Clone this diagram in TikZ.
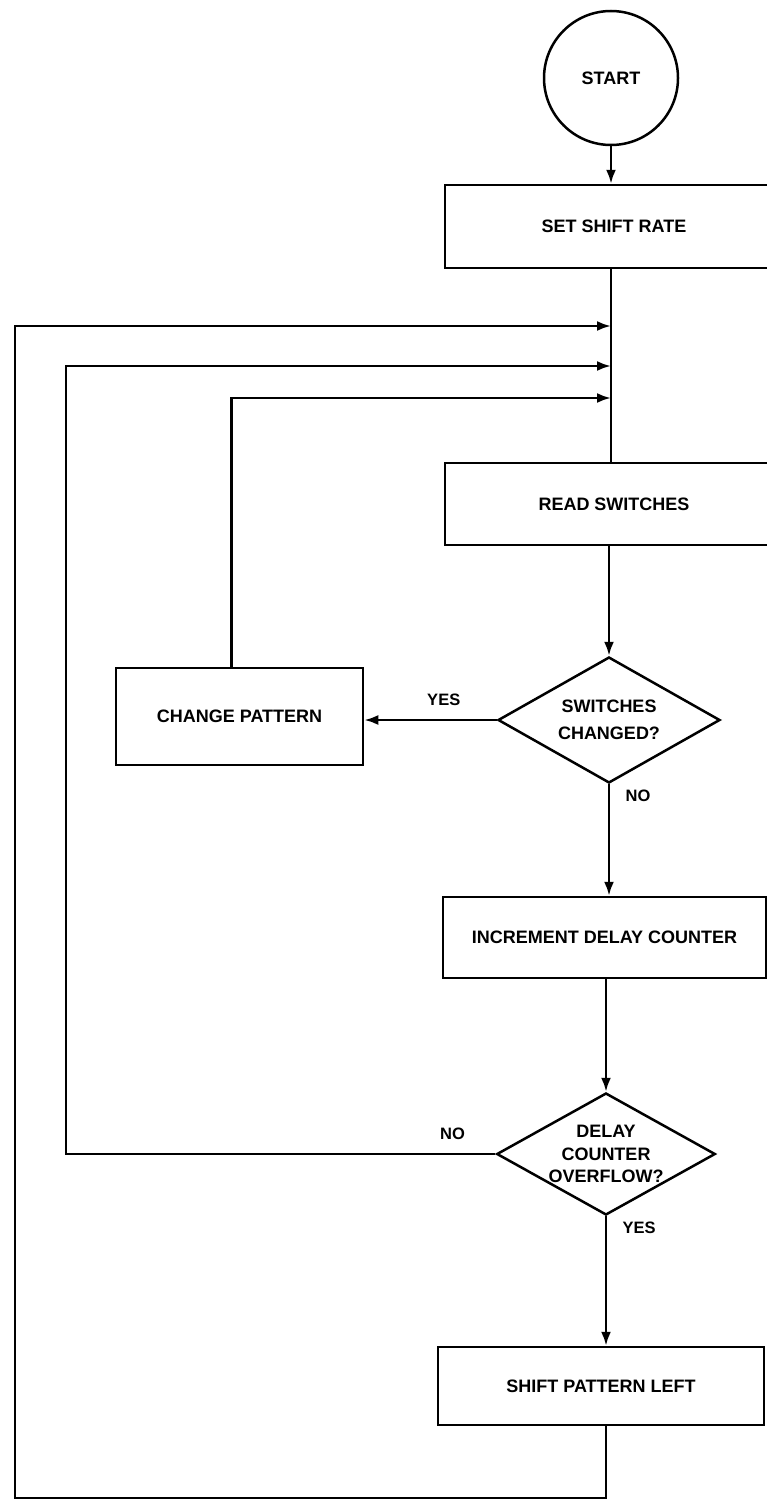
\documentclass[tikz,border=0pt]{standalone}
\usepackage{fontspec}
\setmainfont{Liberation Sans}
\usetikzlibrary{positioning,arrows.meta,shapes.geometric}

\begin{document}
\begin{tikzpicture}[
  x=1pt,y=1pt,
  font=\fontsize{18}{21}\selectfont\bfseries,
  >={Latex[length=14pt,width=10pt]},
  term/.style={draw,circle,line width=2.5pt,minimum size=134pt,inner sep=0pt},
  proc/.style={draw,rectangle,line width=2.5pt,inner sep=0pt,align=center},
  test/.style={draw,diamond,line width=2.5pt,aspect=1.8,inner sep=0pt,align=center},
  flow/.style={->,line width=2.5pt},
  trunk/.style={line width=2.5pt},
  lbl/.style={font=\fontsize{16.5}{19}\selectfont\bfseries},
]
\useasboundingbox (0,0) rectangle (767,-1507);
% main column
\node[term] (start) at (611,-78) {START};
\node[proc,minimum width=338pt,minimum height=83pt] (setrate) at (614,-226.5) {SET SHIFT RATE};
\node[proc,minimum width=338pt,minimum height=82pt] (readsw) at (614,-504) {READ SWITCHES};
\node[test,minimum width=222pt,minimum height=126pt] (swchg) at (609,-720) {SWITCHES\\[6pt]CHANGED?};
\node[proc,minimum width=247pt,minimum height=97pt] (chgpat) at (239.5,-716.5) {CHANGE PATTERN};
\node[proc,minimum width=323pt,minimum height=81pt] (incdel) at (604.5,-937.5) {INCREMENT DELAY COUNTER};
\node[test,minimum width=218pt,minimum height=122pt] (ovf) at (606,-1154) {DELAY\\[1.5pt]COUNTER\\[1.5pt]OVERFLOW?};
\node[proc,minimum width=326pt,minimum height=78pt] (shiftl) at (601,-1386) {SHIFT PATTERN LEFT};
% joins on the trunk and loop corners
\coordinate (j1) at (611,-326);
\coordinate (j2) at (611,-366);
\coordinate (j3) at (611,-398);
\coordinate (l1) at (15,-326);
\coordinate (l2) at (66,-366);
\coordinate (bot) at (15,-1498);
% flows
\draw[flow] (start.south) -- (start.south |- setrate.north);
\draw[trunk] (setrate.south -| start) -- (readsw.north -| start);
\draw[flow] (readsw.south -| swchg) -- (swchg.north);
\draw[flow] (swchg.west) -- node[lbl,pos=0.4,above=10pt]{YES} (swchg.west -| chgpat.east);
\draw[flow] (swchg.south) -- node[lbl,pos=0.1,right=12pt]{NO} (swchg.south |- incdel.north);
\draw[flow] (incdel.south -| ovf) -- (ovf.north);
\draw[flow] (ovf.south) -- node[lbl,pos=0.09,right=12pt]{YES} (ovf.south |- shiftl.north);
% loops back to the trunk
\draw[flow] ([xshift=-8pt]chgpat.north) |- (j3);
\draw[flow] (ovf.west) -- node[lbl,pos=0.1,above=10pt]{NO} (ovf.west -| l2) -- (l2) -- (j2);
\draw[flow] (shiftl.south -| ovf) |- (bot) -- (l1) -- (j1);
\end{tikzpicture}
\end{document}
